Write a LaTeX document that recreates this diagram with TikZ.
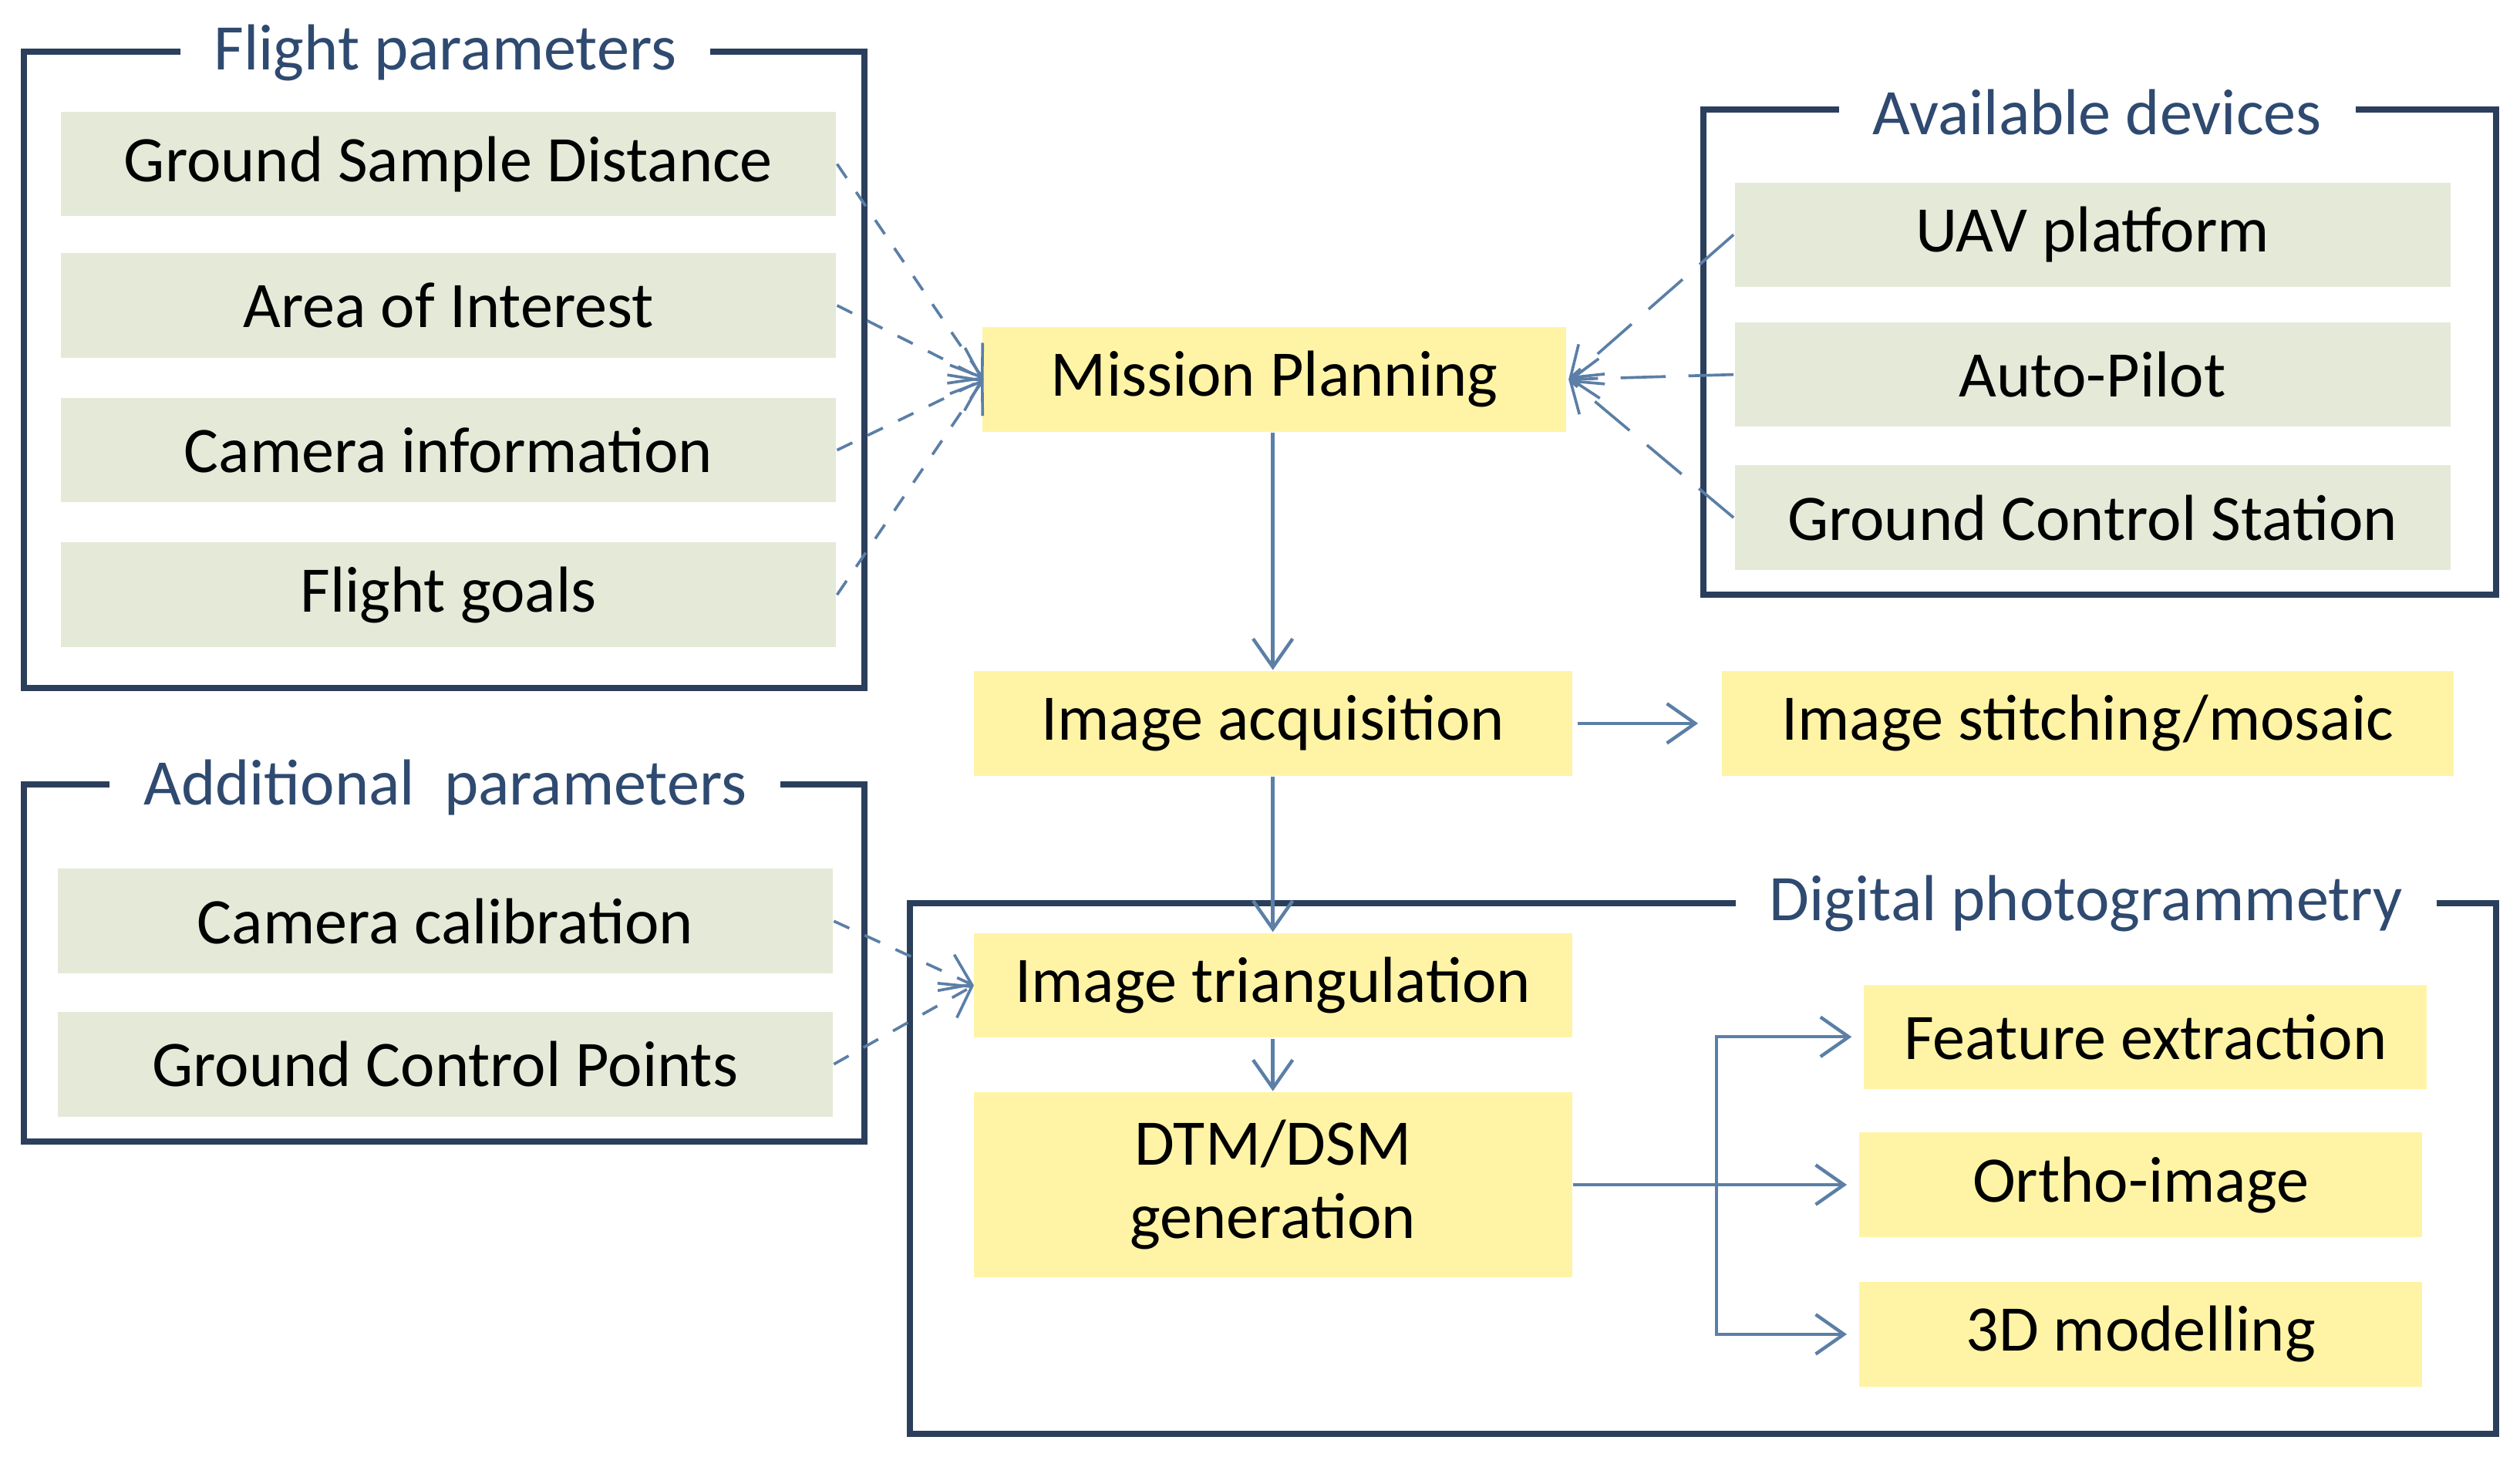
\documentclass[tikz,border=0pt]{standalone}
\usepackage{fontspec}
\setmainfont{Carlito}
\usetikzlibrary{arrows.meta}
\definecolor{frm}{HTML}{2B3F5C}
\definecolor{ttl}{HTML}{2F4A70}
\definecolor{grn}{HTML}{E5EAD8}
\definecolor{yel}{HTML}{FFF4A6}
\definecolor{arr}{HTML}{5B7FA6}
\tikzset{
 frame/.style={draw=frm,line width=1.1pt},
 ttlnode/.style={fill=white,text=ttl,font=\fontsize{11.5}{13}\selectfont,inner xsep=6pt},
 gbox/.style={fill=grn,minimum height=0.65cm,font=\fontsize{11.5}{13}\selectfont},
 ybox/.style={fill=yel,minimum height=0.65cm,font=\fontsize{11.5}{13}\selectfont},
 solidarr/.style={draw=arr,line width=0.6pt,-{Straight Barb[length=5pt,width=7pt]}},
 dasharr/.style={draw=arr,line width=0.5pt,dashed,-{Straight Barb[length=5pt,width=7pt]}},
}
\begin{document}
\begin{tikzpicture}[x=0.01cm,y=-0.01cm]
\useasboundingbox (0,0) rectangle (1568,906);
% frames
\draw[frame] (15,32) rectangle (538,428);
\node[ttlnode] (t1) at (277,33) {Flight parameters};
\draw[frame] (1060,68) rectangle (1553,370);
\node[ttlnode] (t2) at (1305,70) {Available devices};
\draw[frame] (15,488) rectangle (538,710);
\node[ttlnode] (t3) at (277,490) {Additional\ \ parameters};
\draw[frame] (566,562) rectangle (1553,892);
\node[ttlnode] (t4) at (1298,562) {Digital photogrammetry};
% green boxes
\node[gbox,minimum width=4.82cm] (g1) at (279,102) {Ground Sample Distance};
\node[gbox,minimum width=4.82cm] (g2) at (279,190) {Area of Interest};
\node[gbox,minimum width=4.82cm] (g3) at (279,280) {Camera information};
\node[gbox,minimum width=4.82cm] (g4) at (279,370) {Flight goals};
\node[gbox,minimum width=4.45cm] (d1) at (1302,146) {UAV platform};
\node[gbox,minimum width=4.45cm] (d2) at (1302,233) {Auto-Pilot};
\node[gbox,minimum width=4.45cm] (d3) at (1302,322) {Ground Control Station};
\node[gbox,minimum width=4.82cm] (a1) at (277,573) {Camera calibration};
\node[gbox,minimum width=4.82cm] (a2) at (277,662) {Ground Control Points};
% yellow boxes
\node[ybox,minimum width=3.63cm] (mp) at (793,236) {Mission Planning};
\node[ybox,minimum width=3.72cm] (ia) at (792,450) {Image acquisition};
\node[ybox,minimum width=4.55cm] (is) at (1299,450) {Image stitching/mosaic};
\node[ybox,minimum width=3.72cm] (it) at (792,613) {Image triangulation};
\node[ybox,minimum width=3.72cm,minimum height=1.15cm,align=center] (dt) at (792,737) {DTM/DSM\\generation};
\node[ybox,minimum width=3.5cm] (fe) at (1335,645) {Feature extraction};
\node[ybox,minimum width=3.5cm] (oi) at (1332,737) {Ortho-image};
\node[ybox,minimum width=3.5cm] (m3) at (1332,830) {3D modelling};
% dashed arrows
\coordinate (mpin) at (612,236);
\foreach \g in {g1,g2,g3,g4} \draw[dasharr] (\g.east) -- (mpin);
\coordinate (mpout) at (976,236);
\foreach \d in {d1,d2,d3} \draw[dasharr,dash pattern=on 8pt off 4pt] (\d.west) -- (mpout);
\coordinate (itin) at (606,613);
\foreach \a in {a1,a2} \draw[dasharr] (\a.east) -- (itin);
% solid arrows
\draw[solidarr] (ia.north |- mp.south) -- (ia.north);
\draw[solidarr] (ia.south) -- (it.north);
\draw[solidarr] (it.south) -- (dt.north);
\draw[solidarr] (ia.east) ++(3,0) -- ([xshift=-4pt]is.west);
\coordinate (br) at (1068,737);
\draw[draw=arr,line width=0.6pt] (dt.east) -- (br);
\draw[solidarr] (br) |- ([xshift=-2pt]fe.west);
\draw[solidarr] (br) -- ([xshift=-2pt]oi.west);
\draw[solidarr] (br) |- ([xshift=-2pt]m3.west);
\end{tikzpicture}
\end{document}
